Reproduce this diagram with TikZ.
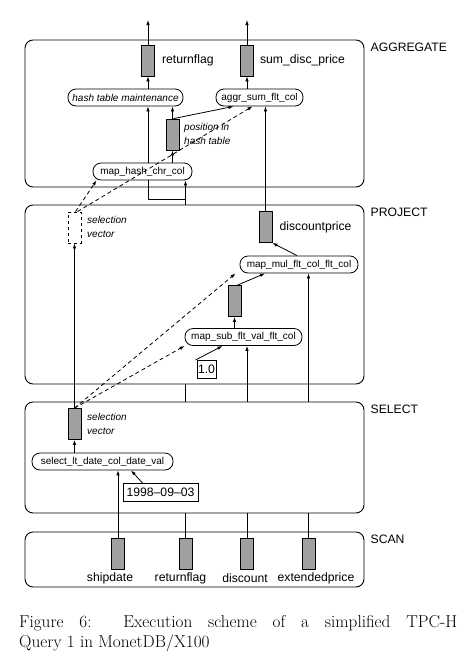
\documentclass[tikz,border=0pt]{standalone}
\usepackage{fontspec}
\usepackage{tikz}
\usetikzlibrary{arrows.meta, positioning, backgrounds, calc}
\newfontfamily\helv{Liberation Sans}
\definecolor{barfill}{RGB}{160,160,160}
\tikzset{
  opframe/.style={
    draw, rectangle, rounded corners=8pt, minimum width=339pt,
    inner sep=0pt, line width=0.9pt
  },
  oplabel/.style={
    font=\helv\fontsize{12.2}{14}\selectfont, inner sep=0pt
  },
  primnode/.style={
    draw, rectangle, rounded corners=8pt, minimum height=17pt,
    inner sep=2pt, font=\helv\fontsize{10}{12}\selectfont, line width=0.8pt
  },
  colbar/.style={
    draw, rectangle, fill=barfill, minimum width=13pt, minimum height=31pt,
    inner sep=0pt, line width=0.8pt
  },
  selbar/.style={
    draw, rectangle, dashed, minimum width=13pt, minimum height=31pt,
    inner sep=0pt, line width=0.8pt
  },
  collabel/.style={
    font=\helv\fontsize{12.2}{14}\selectfont, inner sep=0pt
  },
  notelabel/.style={
    font=\helv\itshape\fontsize{10}{13.5}\selectfont, inner sep=0pt, align=left
  },
  constbox/.style={
    draw, rectangle, inner sep=1pt, minimum height=18pt,
    font=\helv\fontsize{12.2}{14}\selectfont, line width=0.9pt
  },
  arrow/.style={
    -{Latex[length=5pt,width=3.5pt]}, line width=0.8pt
  },
  selarrow/.style={
    -{Latex[length=5pt,width=3.5pt]}, line width=0.8pt,
    dash pattern=on 4pt off 3pt
  },
  colline/.style={
    line width=0.8pt
  },
  captext/.style={
    anchor=base west, inner sep=0pt, font=\fontsize{17.2}{20}\selectfont
  },
}

\begin{document}
\begin{tikzpicture}[x=1pt, y=-1pt]
  \useasboundingbox (0,0) rectangle (465,657);

  %%% Operator frames %%%
  \node[opframe, minimum height=147pt] (agg) at (194.5,113.5) {};
  \node[opframe, minimum height=179pt] (proj) at (194.5,294.5) {};
  \node[opframe, minimum height=111pt] (sel) at (194.5,457.5) {};
  \node[opframe, minimum height=55pt] (scan) at (194.5,559.5) {};

  \node[oplabel, right=6pt of agg.north east, yshift=-8pt] (lblagg) {AGGREGATE};
  \node[oplabel, right=6pt of proj.north east, yshift=-8pt] (lblproj) {PROJECT};
  \node[oplabel, right=6pt of sel.north east, yshift=-8pt] (lblsel) {SELECT};
  \node[oplabel, right=6pt of scan.north east, yshift=-8pt] (lblscan) {SCAN};

  %%% SCAN %%%
  \node[colbar] (shipbar) at (118,553.5) {};
  \node[colbar] (rfscan) at (185.5,553.5) {};
  \node[colbar] (discbar) at (247,553.5) {};
  \node[colbar] (extbar) at (308.5,553.5) {};
  \node[collabel] (lship) at (110,578) {shipdate};
  \node[collabel] (lrfscan) at (180.5,578) {returnflag};
  \node[collabel] (ldisc) at (245,578) {discount};
  \node[collabel] (lext) at (316,578) {extendedprice};

  %%% SELECT %%%
  \node[primnode, minimum width=141pt] (sellt) at (102.5,461.5)
    {select\_lt\_date\_col\_date\_val};
  \node[colbar] (sv1) at (74.5,424) {};
  \node[notelabel, anchor=west] (lsv1) at (87,424) {selection\\vector};
  \node[constbox, minimum width=75pt] (datebox) at (160.5,492.5)
    {1998\textendash 09\textendash 03};

  %%% PROJECT %%%
  \node[selbar] (sv2) at (74.5,227.5) {};
  \node[notelabel, anchor=west] (lsv2) at (87,227) {selection\\vector};
  \node[colbar] (dpbar) at (265.5,227) {};
  \node[collabel, right=7pt of dpbar] (ldp) {discountprice};
  \node[primnode, minimum width=118pt] (mapmul) at (299,264.5)
    {map\_mul\_flt\_col\_flt\_col};
  \node[colbar] (midbar) at (234.5,301) {};
  \node[primnode, minimum width=117pt] (mapsub) at (243.5,337)
    {map\_sub\_flt\_val\_flt\_col};
  \node[constbox, minimum width=19pt] (one) at (206.5,369.5) {1.0};

  %%% AGGREGATE %%%
  \node[colbar] (rfbar) at (148,60.5) {};
  \node[collabel, right=7pt of rfbar] (lrf) {returnflag};
  \node[colbar] (sumbar) at (247,60.5) {};
  \node[collabel, right=6pt of sumbar] (lsum) {sum\_disc\_price};
  \node[primnode, minimum width=115pt, font=\helv\itshape\fontsize{10}{12}\selectfont]
    (hashmaint) at (125.5,97.5) {hash table maintenance};
  \node[primnode, minimum width=87pt] (aggrsum) at (259.5,97.5) {aggr\_sum\_flt\_col};
  \node[colbar] (posbar) at (172.5,134.5) {};
  \node[notelabel, anchor=west] (lpos) at (184,134) {position in\\hash table};
  \node[primnode, minimum width=99pt, fill=white] (maphash) at (142.5,171.5)
    {map\_hash\_chr\_col};

  \coordinate (out1) at (148,20);
  \coordinate (out2) at (247,20);
  \coordinate (jl) at (148,199);
  \coordinate (jr) at (185.5,199);

  %%% SCAN -> SELECT %%%
  \draw[arrow] (shipbar.north) -- (shipbar |- sellt.south);
  \draw[colline] (rfscan.north) -- (rfscan |- sel.south);
  \draw[colline] (discbar.north) -- (discbar |- sel.south);
  \draw[colline] (extbar.north) -- (extbar |- sel.south);

  %%% SELECT %%%
  \draw[arrow] (sv1.south |- sellt.north) -- (sv1.south);
  \draw[arrow] ([xshift=-18pt]datebox.north) -- ([xshift=28.5pt]sellt.south);

  %%% SELECT -> PROJECT %%%
  \draw[arrow] (sv1.north) -- (sv2.south);
  \draw[colline] (rfscan |- sel.north) -- (rfscan |- proj.south);
  \draw[arrow] (discbar |- sel.north) -- (discbar |- mapsub.south);
  \draw[arrow] (extbar |- sel.north) -- (extbar |- mapmul.south);
  \draw[selarrow] (sv1.north) -- (mapsub.south west);
  \draw[selarrow] (sv1.north) -- ([xshift=-4pt]mapmul.south west);

  %%% PROJECT %%%
  \draw[arrow] ([xshift=-21pt]one.north east) -- ([xshift=-21pt]mapsub.south);
  \draw[arrow] (midbar.south |- mapsub.north) -- (midbar.south);
  \draw[arrow] ([xshift=3pt]midbar.north) -- ([xshift=-34pt]mapmul.south);
  \draw[arrow] ([xshift=-2pt]mapmul.north) -- (dpbar.south east);

  %%% PROJECT -> AGGREGATE %%%
  \draw[colline] (rfscan |- proj.north) -- (jr) -- (jl);
  \begin{scope}[on background layer]
    \draw[arrow] (jl) -- (jl |- hashmaint.south);
  \end{scope}
  \draw[arrow] (jr) -- (jr |- maphash.south);
  \draw[arrow] (dpbar.north) -- (dpbar.north |- aggrsum.south);
  \draw[selarrow] ([xshift=1pt]sv2.north) -- ([xshift=-46pt]maphash.south);
  \draw[selarrow] ([xshift=3pt]sv2.north) -- ([xshift=-7pt]aggrsum.south);

  %%% AGGREGATE %%%
  \draw[arrow] (posbar.south |- maphash.north) -- (posbar.south);
  \draw[arrow] (posbar.north) -- (posbar.north |- hashmaint.south);
  \draw[arrow] ([xshift=1pt]posbar.north) -- ([xshift=-26pt]aggrsum.south);
  \draw[arrow] (rfbar.south |- hashmaint.north) -- (rfbar.south);
  \draw[arrow] (sumbar.south |- aggrsum.north) -- (sumbar.south);
  \draw[arrow] (rfbar.north) -- (out1);
  \draw[arrow] (sumbar.north) -- (out2);

  %%% Caption %%%
  \node[captext] (cap1) at (19,627)
    {\makebox[438pt][s]{Figure 6:\ \ Execution scheme of a simplified TPC-H}};
  \node[captext] (cap2) at (19,647) {Query 1 in MonetDB/X100};
\end{tikzpicture}
\end{document}
